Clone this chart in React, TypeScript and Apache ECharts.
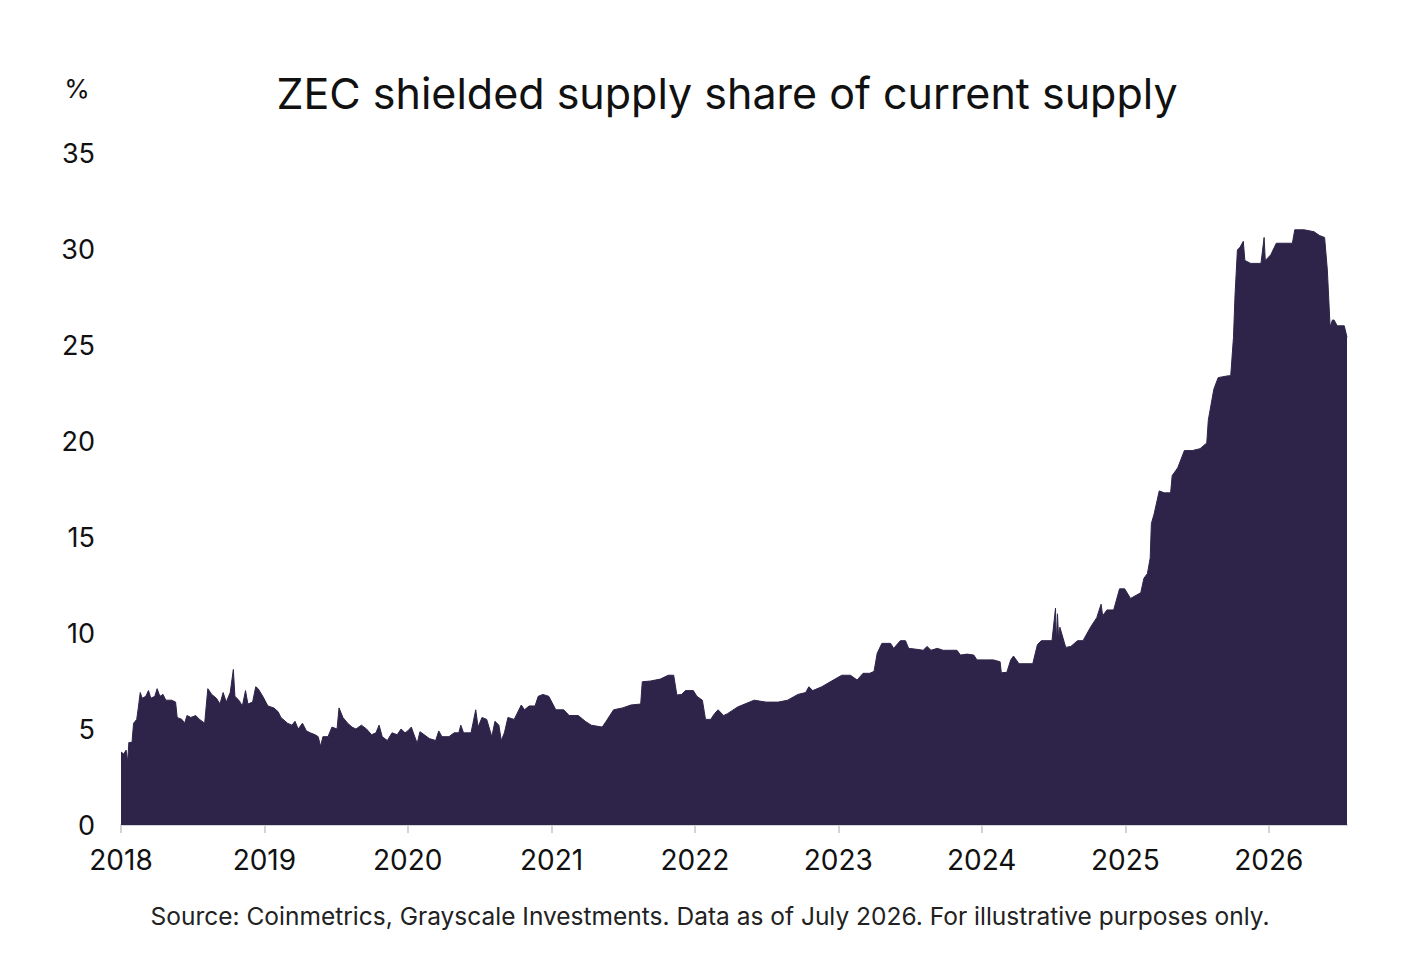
import React, { useEffect, useRef } from "react";
import * as echarts from "echarts";

const TITLE = "ZEC shielded supply share of current supply";
const SOURCE = "Source: Coinmetrics, Grayscale Investments. Data as of July 2026. For illustrative purposes only.";
const Y_UNIT = "%";
const YEAR_TICKS = [2018, 2019, 2020, 2021, 2022, 2023, 2024, 2025, 2026];
const X_MIN = "2018-01-01";
const X_MAX = "2026-07-19";

const dates2018_2019: string[] = [
  "2018-01-01","2018-01-08","2018-01-14","2018-01-18","2018-01-21","2018-01-29","2018-02-02","2018-02-10",
  "2018-02-14","2018-02-19","2018-02-24","2018-03-05","2018-03-12","2018-03-18","2018-03-28","2018-04-03",
  "2018-04-10","2018-04-18","2018-04-25","2018-05-10","2018-05-20","2018-05-24","2018-06-05","2018-06-12",
  "2018-06-18","2018-06-28","2018-07-10","2018-07-20","2018-08-02","2018-08-10","2018-08-20","2018-09-01",
  "2018-09-10","2018-09-18","2018-09-26","2018-10-06","2018-10-14","2018-10-18","2018-10-28","2018-11-06",
  "2018-11-14","2018-11-20","2018-12-02","2018-12-10","2018-12-16","2018-12-28","2019-01-10","2019-01-25",
  "2019-02-05","2019-02-12","2019-03-01","2019-03-12","2019-03-20","2019-03-28","2019-04-08","2019-04-18",
  "2019-04-28","2019-05-10","2019-05-18","2019-05-24","2019-05-30","2019-06-12","2019-06-22","2019-07-05",
  "2019-07-10","2019-07-20","2019-08-01","2019-08-12","2019-08-22","2019-09-05","2019-09-18","2019-10-01",
  "2019-10-12","2019-10-20","2019-10-28","2019-11-10","2019-11-22","2019-12-05","2019-12-15","2019-12-25",
];
const values2018_2019: number[] = [
  3.8,3.7,3.9,3.3,4.3,4.3,5.3,5.5,
  6.1,6.9,6.6,6.7,7.0,6.6,6.7,7.1,
  6.7,6.8,6.5,6.5,6.4,5.6,5.5,5.3,
  5.7,5.6,5.7,5.5,5.3,7.1,6.8,6.6,
  6.3,6.9,6.4,6.9,8.1,6.7,6.5,6.2,
  7.0,6.3,6.4,7.2,7.1,6.7,6.2,6.1,
  5.9,5.6,5.3,5.2,5.4,5.0,5.3,4.9,
  4.8,4.7,4.6,4.1,4.6,4.6,5.1,5.0,
  6.1,5.6,5.3,5.1,5.0,5.2,5.0,4.7,
  4.8,5.2,4.6,4.4,4.8,4.7,5.0,4.8,
];

const dates2020_2022: string[] = [
  "2020-01-01","2020-01-10","2020-01-25","2020-02-01","2020-02-12","2020-02-25","2020-03-12","2020-03-20",
  "2020-03-28","2020-04-15","2020-04-28","2020-05-10","2020-05-15","2020-05-22","2020-06-10","2020-06-15",
  "2020-06-22","2020-06-28","2020-07-08","2020-07-20","2020-08-02","2020-08-10","2020-08-20","2020-08-26",
  "2020-09-03","2020-09-12","2020-09-28","2020-10-16","2020-10-24","2020-11-05","2020-11-20","2020-11-28",
  "2020-12-10","2020-12-25","2021-01-12","2021-02-01","2021-02-15","2021-03-10","2021-03-28","2021-04-12",
  "2021-05-10","2021-05-20","2021-06-08","2021-07-01","2021-07-22","2021-08-16","2021-08-20","2021-09-10",
  "2021-10-05","2021-10-25","2021-11-08","2021-11-16","2021-11-28","2021-12-08","2021-12-28","2022-01-06",
  "2022-01-20","2022-01-28","2022-02-10","2022-02-20","2022-03-01","2022-03-15","2022-03-25","2022-04-20",
  "2022-05-20","2022-06-01","2022-07-01","2022-08-01","2022-08-25","2022-09-20","2022-10-10","2022-10-18",
  "2022-10-28","2022-11-20","2022-12-15",
];
const values2020_2022: number[] = [
  4.9,5.1,4.25,4.86,4.7,4.5,4.4,4.9,
  4.6,4.6,4.8,4.8,5.2,4.8,4.8,5.3,
  6.0,5.1,5.6,5.5,4.6,5.4,5.2,4.4,
  4.8,5.6,5.5,6.25,6.0,6.2,6.2,6.7,
  6.8,6.7,6.0,6.0,5.7,5.7,5.4,5.2,
  5.1,5.4,6.0,6.1,6.25,6.3,7.46,7.5,
  7.6,7.8,7.8,6.77,6.8,7.0,7.0,6.7,
  6.5,5.5,5.5,5.8,6.0,5.7,5.8,6.15,
  6.4,6.5,6.4,6.4,6.5,6.8,6.9,7.2,
  7.0,7.2,7.5,
];

const dates2023_2024: string[] = [
  "2023-01-10","2023-02-01","2023-02-18","2023-03-05","2023-03-22","2023-04-02","2023-04-10","2023-04-22",
  "2023-05-14","2023-05-22","2023-06-08","2023-06-21","2023-06-29","2023-07-20","2023-08-05","2023-08-15",
  "2023-08-25","2023-09-10","2023-09-25","2023-10-15","2023-10-30","2023-11-08","2023-11-25","2023-12-12",
  "2023-12-20","2024-01-10","2024-01-31","2024-02-17","2024-02-20","2024-03-05","2024-03-15","2024-03-22",
  "2024-04-05","2024-05-10","2024-05-22","2024-06-01","2024-06-28","2024-07-07","2024-07-09","2024-07-12",
  "2024-07-15","2024-07-18","2024-08-02","2024-08-15","2024-09-01","2024-09-15","2024-10-04","2024-10-20",
  "2024-10-31","2024-11-04","2024-11-15","2024-12-02","2024-12-17","2024-12-30",
];
const values2023_2024: number[] = [
  7.8,7.8,7.55,7.9,7.9,8.0,8.94,9.46,
  9.46,9.2,9.6,9.6,9.2,9.15,9.1,9.3,
  9.1,9.2,9.1,9.1,9.1,8.85,8.9,8.85,
  8.6,8.6,8.6,8.5,7.93,7.95,8.6,8.8,
  8.4,8.4,9.4,9.6,9.6,11.3,9.4,11.0,
  9.6,10.3,9.25,9.3,9.6,9.6,10.3,10.8,
  11.5,10.9,11.2,11.2,12.3,12.3,
];

const dates2025_2026: string[] = [
  "2025-01-14","2025-02-09","2025-02-17","2025-02-26","2025-03-05","2025-03-08","2025-03-15","2025-03-28",
  "2025-04-10","2025-04-26","2025-04-30","2025-05-14","2025-05-31","2025-06-20","2025-07-10","2025-07-27",
  "2025-07-31","2025-08-14","2025-08-25","2025-09-20","2025-09-26","2025-10-03","2025-10-07","2025-10-13",
  "2025-10-20","2025-10-28","2025-11-01","2025-11-16","2025-12-12","2025-12-20","2025-12-23","2026-01-06",
  "2026-01-20","2026-03-02","2026-03-08","2026-04-01","2026-04-26","2026-05-10","2026-05-23","2026-05-30",
  "2026-06-06","2026-06-12","2026-06-16","2026-06-24","2026-07-12","2026-07-19",
];
const values2025_2026: number[] = [
  11.8,12.1,12.85,13.1,13.9,15.7,16.2,17.4,
  17.3,17.3,18.2,18.6,19.5,19.5,19.6,19.9,
  21.1,22.7,23.3,23.4,23.4,25.4,27.6,29.95,
  30.1,30.4,29.4,29.25,29.25,30.6,29.4,29.7,
  30.3,30.3,31.0,31.0,30.9,30.7,30.6,28.9,
  25.95,26.3,26.3,26.0,26.0,25.4,
];

const allDates = [...dates2018_2019, ...dates2020_2022, ...dates2023_2024, ...dates2025_2026];
const allValues = [...values2018_2019, ...values2020_2022, ...values2023_2024, ...values2025_2026];

const FONT = "Inter, 'Noto Sans', sans-serif";
const FILL = "#2e2449";

const ts = (d: string) => new Date(d + "T00:00:00Z").getTime();

export default function App() {
  const ref = useRef<HTMLDivElement>(null);
  useEffect(() => {
    document.body.style.margin = "0";
    if (!ref.current) return;
    const chart = echarts.init(ref.current, null, { renderer: "svg" });
    const yearValues = YEAR_TICKS.map((y) => Date.UTC(y, 0, 1));
    const data = allDates.map((d, i) => [ts(d), allValues[i]]);
    chart.setOption({
      animation: false,
      backgroundColor: "#ffffff",
      textStyle: { fontFamily: FONT },
      grid: { left: 121, right: 75, top: 153, bottom: 141, containLabel: false },
      graphic: [
        {
          type: "text",
          x: 727,
          y: 93,
          style: {
            text: TITLE,
            font: `400 43px ${FONT}`,
            fill: "#111111",
            textAlign: "center",
            textVerticalAlign: "middle",
          },
        },
        {
          type: "text",
          x: 77,
          y: 88,
          style: {
            text: Y_UNIT,
            font: `400 26px ${FONT}`,
            fill: "#111111",
            textAlign: "center",
            textVerticalAlign: "middle",
          },
        },
        {
          type: "text",
          x: 710,
          y: 916,
          style: {
            text: SOURCE,
            font: `400 24.5px ${FONT}`,
            fill: "#222222",
            textAlign: "center",
            textVerticalAlign: "middle",
          },
        },
      ],
      xAxis: {
        type: "value",
        min: ts(X_MIN),
        max: ts(X_MAX),
        axisLine: { show: true, lineStyle: { color: "#d3d3d6", width: 2 } },
        axisTick: {
          show: true,
          customValues: yearValues,
          length: 8,
          lineStyle: { color: "#d3d3d6", width: 2 },
        },
        axisLabel: {
          customValues: yearValues,
          formatter: (v: number) => String(new Date(v + 43200000).getUTCFullYear()),
          fontSize: 28,
          color: "#111111",
          margin: 21,
          fontFamily: FONT,
        },
        splitLine: { show: false },
      },
      yAxis: {
        type: "value",
        min: 0,
        max: 35,
        interval: 5,
        axisLine: { show: false },
        axisTick: { show: false },
        splitLine: { show: false },
        axisLabel: { fontSize: 27, color: "#111111", margin: 26, fontFamily: FONT },
      },
      series: [
        {
          type: "line",
          data,
          showSymbol: false,
          symbol: "none",
          lineStyle: { width: 1, color: FILL },
          areaStyle: { color: FILL, opacity: 1 },
          silent: true,
        },
      ],
    });
    return () => chart.dispose();
  }, []);
  return <div ref={ref} style={{ width: 1422, height: 966 }} />;
}
